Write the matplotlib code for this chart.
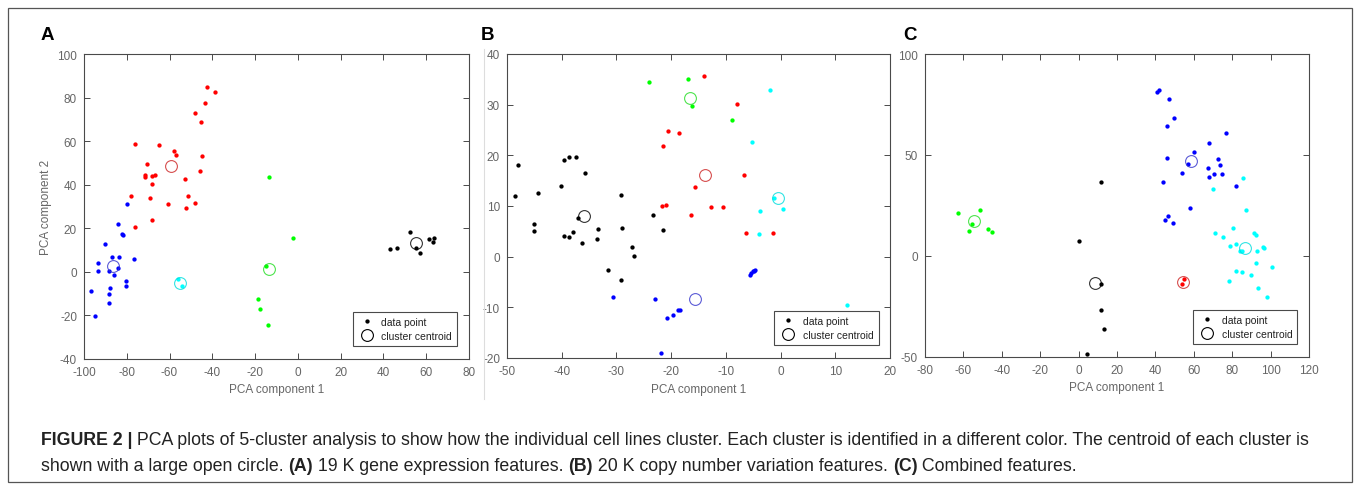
import matplotlib
matplotlib.use("Agg")
import matplotlib.pyplot as plt
from matplotlib.lines import Line2D

plt.rcParams['font.family'] = ['Liberation Sans', 'DejaVu Sans']
plt.rcParams['axes.unicode_minus'] = False

# ---------------- Panel A data ----------------
a_red_x = [-42.3, -38.9, -43.3, -47.9, -45.3, -76.0, -64.9, -57.9, -56.8, -44.7, -70.4, -71.6, -71.6,
           -68.4, -66.8, -68.1, -52.8, -45.6, -77.9, -69.1, -60.6, -51.4, -52.3, -48.1, -68.4, -76.0]
a_red_y = [85.0, 82.6, 77.7, 73.1, 68.7, 58.6, 58.3, 55.6, 53.7, 53.4, 49.5, 44.4, 43.7,
           44.0, 44.6, 40.5, 42.6, 46.1, 34.6, 33.7, 31.1, 34.6, 29.4, 31.4, 23.7, 20.5]
a_blue_x = [-80.1, -83.9, -82.4, -81.9, -90.3, -93.6, -87.1, -83.5, -76.8, -93.6, -88.5, -84.1,
            -86.0, -80.5, -80.4, -87.8, -88.3, -88.5, -96.6, -94.9]
a_blue_y = [31.1, 21.9, 17.2, 17.0, 13.0, 4.1, 6.6, 7.0, 5.8, 0.2, 0.2, 2.0,
            -1.4, -4.3, -6.6, -7.5, -10.1, -14.2, -9.0, -20.4]
a_cyan_x = [-55.9, -54.0]
a_cyan_y = [-3.4, -6.3]
a_green_x = [-13.4, -2.4, -14.9, -18.5, -17.7, -14.0]
a_green_y = [43.5, 15.5, 2.5, -12.6, -17.2, -24.3]
a_black_x = [52.4, 42.9, 46.2, 61.4, 63.5, 63.2, 55.1, 56.9]
a_black_y = [18.5, 10.6, 10.9, 15.2, 15.6, 13.5, 11.0, 8.6]
a_cent_x = [-59.2, -86.3, -55.1, -13.4, 55.1]
a_cent_y = [48.7, 2.6, -5.1, 1.2, 13.2]

# ---------------- Panel B data ----------------
b_green_x = [-24.1, -16.9, -16.2, -8.8]
b_green_y = [34.5, 35.0, 29.8, 26.9]
b_red_x = [-14.0, -7.9, -20.5, -18.6, -21.5, -6.6, -15.7, -21.6, -21.0, -12.7, -10.5, -16.4, -6.3, -1.3]
b_red_y = [35.7, 30.2, 24.9, 24.5, 21.9, 16.1, 13.8, 10.0, 10.1, 9.9, 9.9, 8.2, 4.75, 4.75]
b_cyan_x = [-2.0, -5.2, -1.2, -3.8, 0.5, -4.0, 12.1]
b_cyan_y = [32.8, 22.7, 11.6, 9.1, 9.4, 4.55, -9.6]
b_blue_x = [-5.6, -5.4, -5.1, -4.8, -4.6, -30.6, -22.9, -20.7, -19.7, -18.8, -18.4, -21.9]
b_blue_y = [-3.6, -3.3, -2.9, -2.8, -2.7, -7.9, -8.3, -12.1, -11.6, -10.6, -10.6, -19.1]
b_black_x = [-47.9, -48.5, -44.3, -40.2, -39.6, -38.7, -37.4, -35.8, -29.2, -45.0, -45.1, -39.6,
             -38.7, -38.0, -37.1, -36.3, -33.4, -33.5, -28.9, -23.3, -21.5, -27.1, -26.8, -31.6, -29.2]
b_black_y = [18.1, 11.9, 12.6, 14.0, 19.1, 19.7, 19.7, 16.5, 12.2, 6.4, 5.0, 4.0,
             3.8, 4.9, 7.6, 2.7, 5.4, 3.4, 5.6, 8.3, 5.3, 2.0, 0.2, -2.7, -4.6]
b_cent_x = [-13.8, -15.7, -0.4, -16.5, -35.9]
b_cent_y = [16.1, -8.4, 11.6, 31.4, 8.1]

# ---------------- Panel C data ----------------
c_blue_x = [40.6, 41.9, 47.3, 49.7, 46.1, 76.8, 67.8, 60.3, 45.9, 72.5, 73.5, 57.0, 67.6, 54.1,
            70.6, 74.6, 68.1, 43.7, 81.8, 58.1, 46.6, 44.9, 49.4]
c_blue_y = [81.3, 82.3, 77.8, 68.2, 64.5, 60.8, 55.7, 51.7, 48.7, 48.0, 45.2, 45.3, 43.5, 41.3,
            40.7, 40.5, 39.0, 36.5, 34.8, 23.6, 19.9, 17.9, 16.1]
c_black_x = [11.9, 0.3, 11.6, 11.8, 13.0, 4.6]
c_black_y = [36.5, 7.6, -13.8, -26.9, -36.2, -48.5]
c_green_x = [-62.7, -51.6, -55.7, -57.1, -47.2, -45.0]
c_green_y = [21.3, 22.6, 15.6, 12.3, 13.3, 11.8]
c_red_x = [54.9, 53.9]
c_red_y = [-11.3, -14.0]
c_cyan_x = [85.5, 70.0, 87.4, 71.1, 75.4, 80.6, 91.4, 92.4, 78.7, 81.8, 83.9, 85.0, 93.1, 96.1,
            96.6, 92.4, 100.9, 82.0, 85.1, 89.8, 78.5, 93.5, 98.0]
c_cyan_y = [38.8, 33.2, 22.9, 11.3, 9.6, 14.1, 11.3, 10.6, 5.1, 6.0, 2.7, 2.3, 2.7, 4.7,
            4.2, -3.3, -5.6, -7.6, -8.1, -9.6, -12.5, -15.8, -20.3]
c_cent_x = [58.4, 8.8, -54.5, 54.4, 86.7]
c_cent_y = [47.0, -13.6, 17.1, -12.8, 4.2]

# ---------------- Labels ----------------
panel_letters = ['A', 'B', 'C']
xlabel_text = 'PCA component 1'
ylabel_text = 'PCA component 2'
legend_labels = ['data point', 'cluster centroid']
a_xticks = [-100, -80, -60, -40, -20, 0, 20, 40, 60, 80]
a_yticks = [-40, -20, 0, 20, 40, 60, 80, 100]
b_xticks = [-50, -40, -30, -20, -10, 0, 10, 20]
b_yticks = [-20, -10, 0, 10, 20, 30, 40]
c_xticks = [-80, -60, -40, -20, 0, 20, 40, 60, 80, 100, 120]
c_yticks = [-50, 0, 50, 100]
caption_line1 = [("FIGURE 2 |", True),
                 (" PCA plots of 5-cluster analysis to show how the individual cell lines cluster. "
                  "Each cluster is identified in a different color. The centroid of each cluster is", False)]
caption_line2 = [("shown with a large open circle. ", False), ("(A)", True),
                 (" 19 K gene expression features. ", False), ("(B)", True),
                 (" 20 K copy number variation features. ", False), ("(C)", True),
                 (" Combined features.", False)]

W, H = 1358, 489
fig = plt.figure(figsize=(W / 100, H / 100), dpi=100)

TICK_C = '#666666'
SPINE_C = '#4a4a4a'


def make_axes(px_left, px_top, px_right, px_bottom):
    return fig.add_axes([px_left / W, 1 - px_bottom / H, (px_right - px_left) / W, (px_bottom - px_top) / H])


def style(ax, xlim, ylim, xticks, yticks):
    ax.set_xlim(*xlim)
    ax.set_ylim(*ylim)
    ax.set_xticks(xticks)
    ax.set_yticks(yticks)
    ax.tick_params(direction='in', top=True, right=True, length=4, width=0.7,
                   color=SPINE_C, labelcolor=TICK_C, labelsize=8.5, pad=5)
    for s in ax.spines.values():
        s.set_color(SPINE_C)
        s.set_linewidth(0.8)
    ax.set_xlabel(xlabel_text, fontsize=8.5, color=TICK_C, labelpad=4)


def scatter_sets(ax, sets, cent_x, cent_y, cent_colors):
    for xs, ys, col in sets:
        ax.plot(xs, ys, linestyle='none', marker='o', markersize=3.1, color=col, markeredgewidth=0)
    for x, y, col in zip(cent_x, cent_y, cent_colors):
        ax.plot([x], [y], linestyle='none', marker='o', markersize=8.5, markerfacecolor='none',
                markeredgecolor=col, markeredgewidth=0.8, alpha=0.8)


def add_legend(ax):
    handles = [Line2D([], [], linestyle='none', marker='o', markersize=3.1, color='black', markeredgewidth=0),
               Line2D([], [], linestyle='none', marker='o', markersize=8.5, markerfacecolor='none',
                      markeredgecolor='black', markeredgewidth=0.8)]
    leg = ax.legend(handles, legend_labels, loc='lower right', bbox_to_anchor=(0.97, 0.043),
                    fontsize=7.5, frameon=True, fancybox=False, framealpha=1,
                    edgecolor=SPINE_C, borderpad=0.5, handlelength=1.6, handletextpad=0.6,
                    labelspacing=0.35, borderaxespad=0)
    leg.get_frame().set_linewidth(0.8)
    for t in leg.get_texts():
        t.set_color('#222222')


# Panel A
axA = make_axes(84, 55, 469, 360)
style(axA, (-100, 80), (-40, 100), a_xticks, a_yticks)
axA.set_ylabel(ylabel_text, fontsize=8.5, color=TICK_C, labelpad=4)
scatter_sets(axA, [(a_red_x, a_red_y, 'red'), (a_blue_x, a_blue_y, 'blue'), (a_cyan_x, a_cyan_y, 'cyan'),
                   (a_green_x, a_green_y, 'lime'), (a_black_x, a_black_y, 'black')],
             a_cent_x, a_cent_y, ['#cc2222', '#3333cc', '#00dddd', '#22dd22', 'black'])
add_legend(axA)

# Panel B
axB = make_axes(507, 55, 890, 359)
style(axB, (-50, 20), (-20, 40), b_xticks, b_yticks)
scatter_sets(axB, [(b_green_x, b_green_y, 'lime'), (b_red_x, b_red_y, 'red'), (b_cyan_x, b_cyan_y, 'cyan'),
                   (b_blue_x, b_blue_y, 'blue'), (b_black_x, b_black_y, 'black')],
             b_cent_x, b_cent_y, ['#cc2222', '#3333cc', '#00dddd', '#22dd22', 'black'])
add_legend(axB)

# Panel C
axC = make_axes(925, 55, 1309, 358)
style(axC, (-80, 120), (-50, 100), c_xticks, c_yticks)
scatter_sets(axC, [(c_blue_x, c_blue_y, 'blue'), (c_black_x, c_black_y, 'black'), (c_green_x, c_green_y, 'lime'),
                   (c_red_x, c_red_y, 'red'), (c_cyan_x, c_cyan_y, 'cyan')],
             c_cent_x, c_cent_y, ['#3333cc', 'black', '#22dd22', '#cc2222', '#00dddd'])
add_legend(axC)

# Panel letters
for letter, px in zip(panel_letters, [41, 481, 903]):
    fig.text(px / W, 1 - 36 / H, letter, fontsize=13.5, fontweight='bold', va='center', ha='left')

# Outer border and separator
fig.add_artist(plt.Rectangle((8 / W, 1 - 483 / H), (1352 - 8) / W, (483 - 9) / H, transform=fig.transFigure,
                             fill=False, edgecolor='#555555', linewidth=0.9))
fig.add_artist(Line2D([484 / W, 484 / W], [1 - 50 / H, 1 - 400 / H], transform=fig.transFigure,
                      color='#dddddd', linewidth=0.8))

# Caption
fig.canvas.draw()
renderer = fig.canvas.get_renderer()


def draw_line(pieces, px_x, px_y, fs):
    x = px_x
    for txt, bold in pieces:
        t = fig.text(x / W, 1 - px_y / H, txt, fontsize=fs, fontweight='bold' if bold else 'normal',
                     va='center', ha='left', color='#222222')
        bb = t.get_window_extent(renderer=renderer)
        x += bb.width


# find font size so that line 1 spans target width
target = 1312 - 41
fs = 10.0
probe = fig.text(0, 0, ''.join(p for p, _ in caption_line1), fontsize=fs)
wprobe = probe.get_window_extent(renderer=renderer).width
probe.remove()
fs = fs * target / wprobe
draw_line(caption_line1, 41, 441, fs)
draw_line(caption_line2, 41, 467, fs)

fig.savefig('out.png', dpi=100)
